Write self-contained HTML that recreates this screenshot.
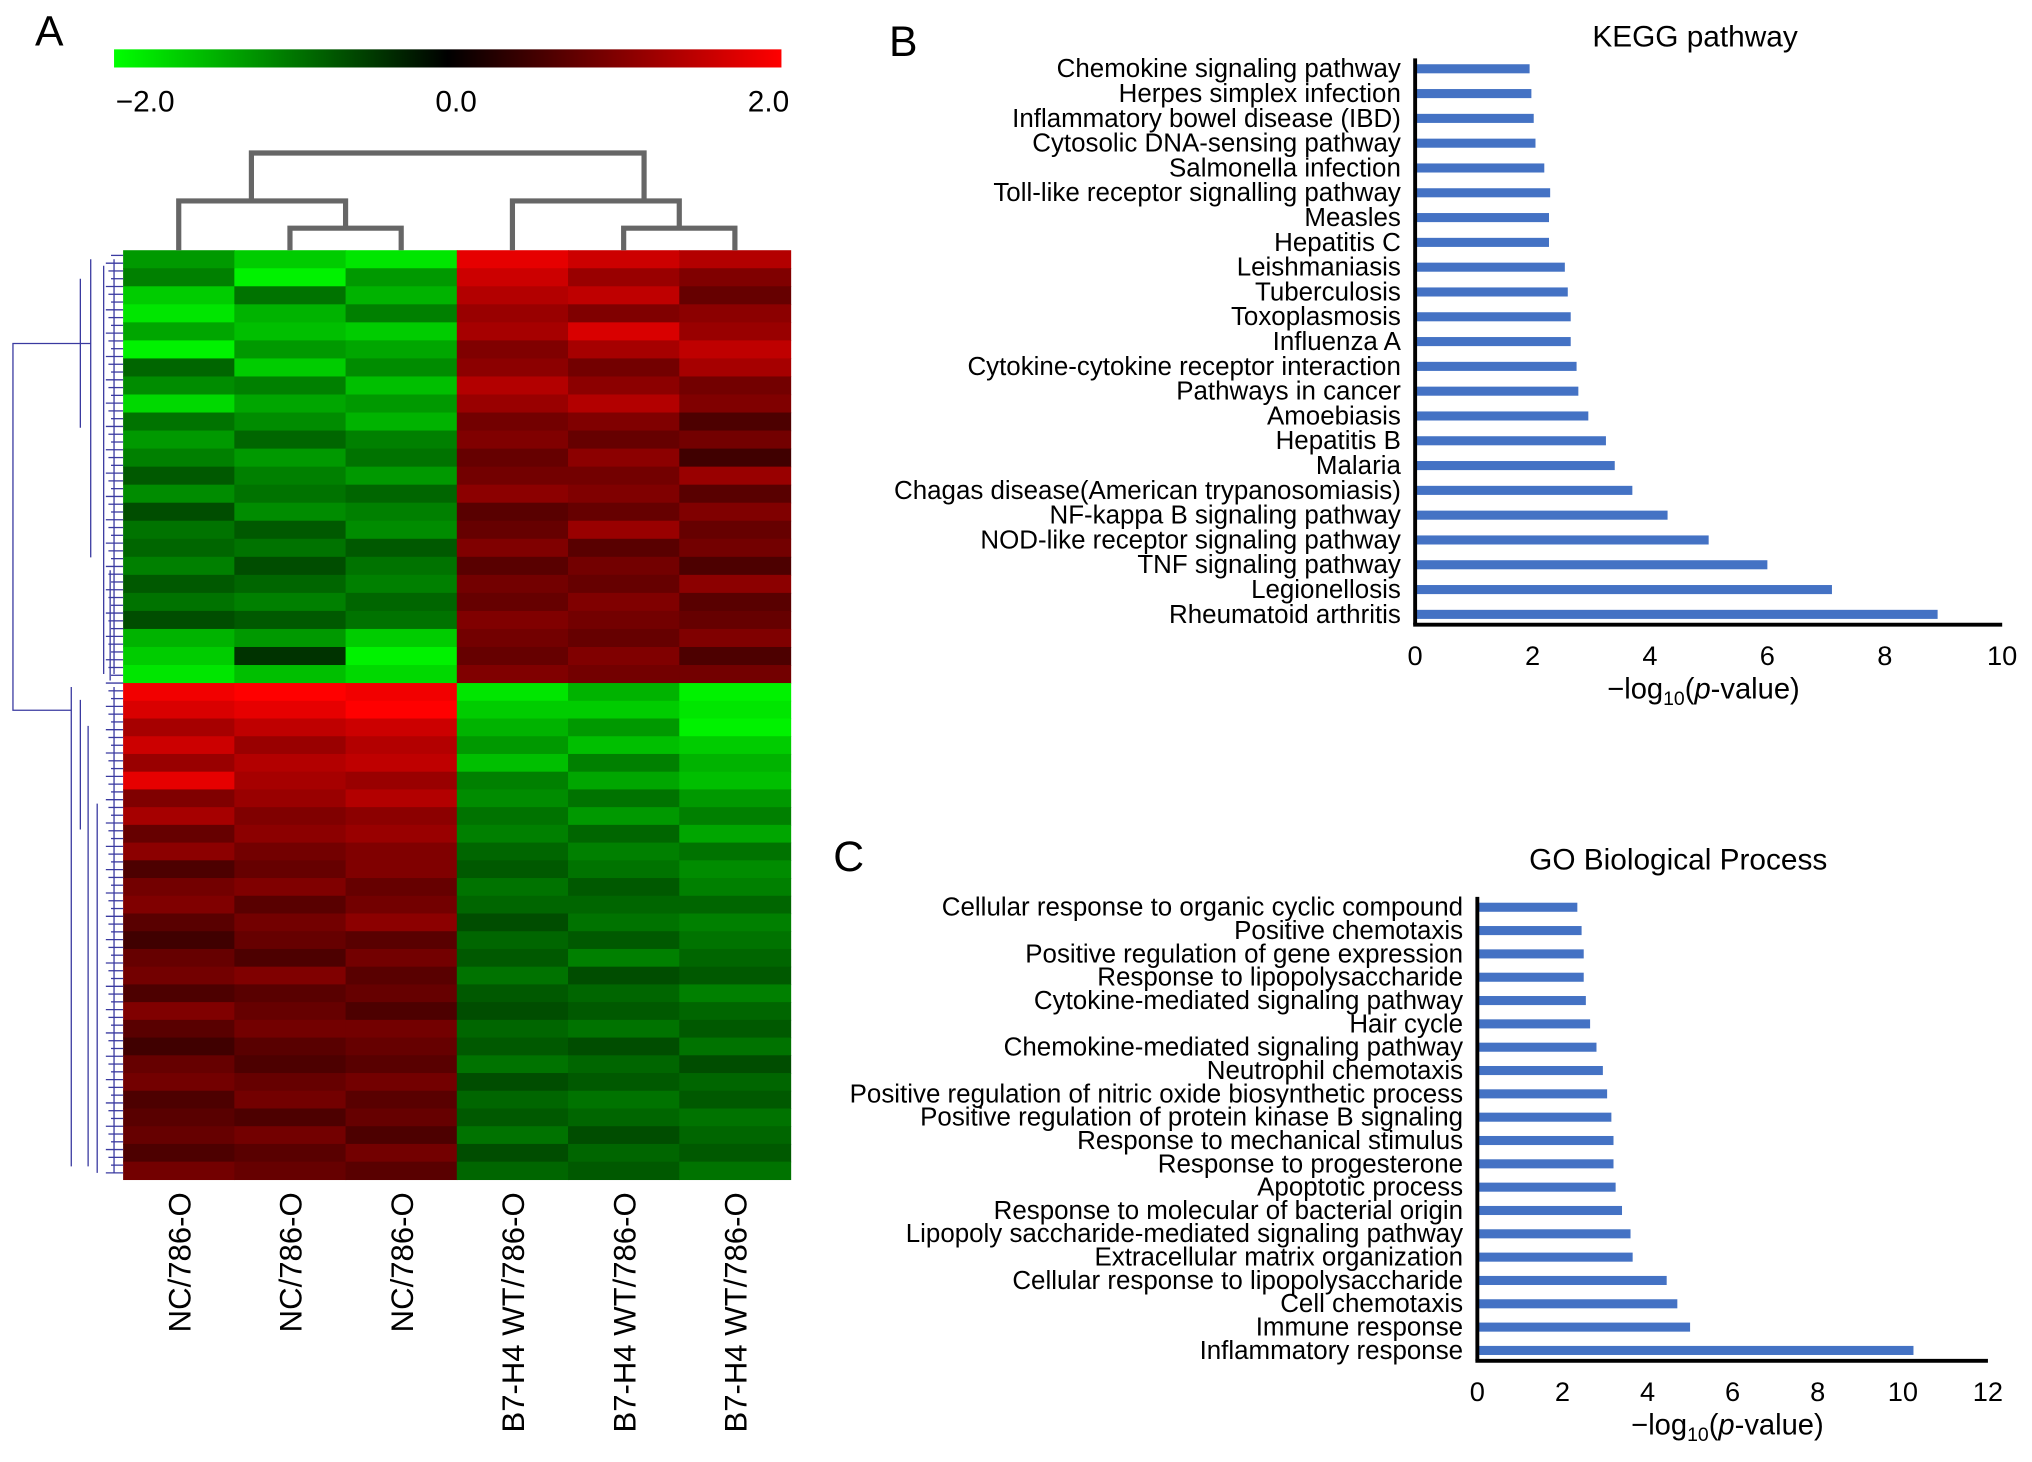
<!DOCTYPE html>
<html><head><meta charset="utf-8"><style>
html,body{margin:0;padding:0;background:#fff}
svg{display:block;font-family:"Liberation Sans",sans-serif}
</style></head><body>
<svg id="fig" width="2032" height="1462" viewBox="0 0 1568 1128">
<g id="panelA"></g>
<g id="panelB"></g>
<g id="panelC"></g>
</svg>
<script>
// ---- Heatmap data (rows x 6 samples: NC,NC,NC,B7,B7,B7), values in log scale ----
const heatSamples = ["NC/786-O","NC/786-O","NC/786-O","B7-H4 WT/786-O","B7-H4 WT/786-O","B7-H4 WT/786-O"];
const heatTop = [
[-1.2,-1.6,-1.8,1.8,1.6,1.4],[-1.0,-1.9,-1.2,1.6,1.2,1.0],[-1.6,-0.9,-1.4,1.4,1.5,0.8],[-1.8,-1.4,-1.0,1.2,1.0,1.1],
[-1.3,-1.5,-1.6,1.3,1.7,1.2],[-1.9,-1.2,-1.3,1.0,1.3,1.5],[-0.8,-1.6,-1.1,1.1,0.9,1.3],[-1.1,-1.0,-1.5,1.4,1.1,0.9],
[-1.7,-1.3,-1.2,1.2,1.4,1.0],[-0.9,-1.1,-1.4,0.9,1.0,0.6],[-1.2,-0.8,-1.0,1.0,0.8,0.9],[-1.0,-1.2,-0.9,0.8,1.1,0.5],
[-0.7,-1.0,-1.2,0.9,0.9,1.2],[-1.1,-0.9,-0.8,1.1,1.0,0.7],[-0.6,-1.1,-1.0,0.7,0.8,1.0],[-0.9,-0.7,-1.1,0.8,1.2,0.8],
[-0.8,-0.9,-0.7,1.0,0.7,0.9],[-1.0,-0.6,-0.9,0.7,0.9,0.6],[-0.7,-0.8,-1.0,0.9,0.8,1.1],[-0.9,-1.0,-0.8,0.8,1.0,0.7],
[-0.6,-0.7,-0.9,1.0,0.9,0.8],[-1.4,-1.2,-1.6,0.9,0.8,1.0],[-1.6,-0.4,-1.9,0.8,1.0,0.6],[-1.8,-1.5,-1.7,1.0,0.9,0.9]];
const heatBottom = [
[1.9,2.0,1.9,-1.8,-1.4,-1.9],[1.7,1.8,2.0,-1.6,-1.6,-1.8],[1.3,1.5,1.6,-1.4,-1.2,-1.9],[1.6,1.2,1.4,-1.2,-1.5,-1.6],
[1.2,1.4,1.5,-1.5,-1.0,-1.4],[1.8,1.3,1.2,-1.0,-1.3,-1.5],[1.0,1.2,1.4,-1.1,-0.9,-1.2],[1.3,1.0,1.1,-0.9,-1.2,-1.0],
[0.8,1.1,1.2,-1.0,-0.8,-1.3],[1.1,0.9,1.0,-0.8,-1.0,-0.9],[0.6,0.8,1.0,-0.7,-0.9,-1.1],[0.9,1.0,0.8,-0.9,-0.7,-1.0],
[1.0,0.7,0.9,-0.8,-0.8,-0.8],[0.7,0.9,1.1,-0.6,-0.9,-1.0],[0.5,0.8,0.7,-0.8,-0.7,-0.9],[0.8,0.6,0.9,-0.7,-1.0,-0.8],
[0.9,1.0,0.7,-0.9,-0.6,-0.7],[0.6,0.7,0.8,-0.7,-0.8,-1.0],[1.0,0.8,0.6,-0.6,-0.7,-0.8],[0.7,0.9,0.9,-0.8,-0.9,-0.7],
[0.5,0.7,0.8,-0.7,-0.6,-0.9],[0.8,0.6,0.7,-0.9,-0.8,-0.6],[0.9,0.8,0.9,-0.6,-0.7,-0.8],[0.6,0.9,0.7,-0.8,-0.9,-0.7],
[0.7,0.6,0.8,-0.7,-0.8,-0.9],[0.8,0.9,0.6,-0.9,-0.6,-0.8],[0.6,0.7,0.9,-0.6,-0.8,-0.7],[0.9,0.8,0.7,-0.8,-0.7,-0.9]];
const colorTicks = ["\u22122.0","0.0","2.0"];

// ---- KEGG data ----
const keggTerms = ["Chemokine signaling pathway","Herpes simplex infection","Inflammatory bowel disease (IBD)","Cytosolic DNA-sensing pathway","Salmonella infection","Toll-like receptor signalling pathway","Measles","Hepatitis C","Leishmaniasis","Tuberculosis","Toxoplasmosis","Influenza A","Cytokine-cytokine receptor interaction","Pathways in cancer","Amoebiasis","Hepatitis B","Malaria","Chagas disease(American trypanosomiasis)","NF-kappa B signaling pathway","NOD-like receptor signaling pathway","TNF signaling pathway","Legionellosis","Rheumatoid arthritis"];
const keggValues = [1.95,1.98,2.02,2.05,2.2,2.3,2.28,2.28,2.55,2.6,2.65,2.65,2.75,2.78,2.95,3.25,3.4,3.7,4.3,5.0,6.0,7.1,8.9];
const keggTicks = [0,2,4,6,8,10];

// ---- GO data ----
const goTerms = ["Cellular response to organic cyclic compound","Positive chemotaxis","Positive regulation of gene expression","Response to lipopolysaccharide","Cytokine-mediated signaling pathway","Hair cycle","Chemokine-mediated signaling pathway","Neutrophil chemotaxis","Positive regulation of nitric oxide biosynthetic process","Positive regulation of protein kinase B signaling","Response to mechanical stimulus","Response to progesterone","Apoptotic process","Response to molecular of bacterial origin","Lipopoly saccharide-mediated signaling pathway","Extracellular matrix organization","Cellular response to lipopolysaccharide","Cell chemotaxis","Immune response","Inflammatory response"];
const goValues = [2.35,2.45,2.5,2.5,2.55,2.65,2.8,2.95,3.05,3.15,3.2,3.2,3.25,3.4,3.6,3.65,4.45,4.7,5.0,10.25];
const goTicks = [0,2,4,6,8,10,12];

const NS="http://www.w3.org/2000/svg";
function mk(tag,attrs,parent,text){const e=document.createElementNS(NS,tag);for(const k in attrs)e.setAttribute(k,attrs[k]);if(text!==undefined)e.textContent=text;parent.appendChild(e);return e;}
function col(v){const t=Math.max(-1,Math.min(1,v/2));const c=Math.round(255*Math.abs(t));return t<0?`rgb(0,${c},0)`:`rgb(${c},0,0)`;}

// ===== Panel A =====
const A=document.getElementById('panelA');
let t=mk('text',{x:27,y:35,'font-size':33},A,'A');


const defs=mk('defs',{},A);
const lg=mk('linearGradient',{id:'cb',x1:0,x2:1,y1:0,y2:0},defs);
mk('stop',{offset:'0','stop-color':'#00ff00'},lg);mk('stop',{offset:'0.5','stop-color':'#000'},lg);mk('stop',{offset:'1','stop-color':'#ff0000'},lg);
const cbar=mk('rect',{x:88,y:38,width:515,height:14,fill:'url(#cb)'},A);


const cbx=[112,352,593];
colorTicks.forEach((s,i)=>{const e=mk('text',{x:cbx[i],y:86,'font-size':23,'text-anchor':'middle'},A,s);

});
const hx0=95,hx1=610,hy0=193,hmid=527,hy1=910,cw=(hx1-hx0)/6;
function drawBlock(rows,y0,y1){const rh=(y1-y0)/rows.length;rows.forEach((r,i)=>r.forEach((v,j)=>{const c=mk('rect',{x:hx0+j*cw,y:y0+i*rh,width:cw+0.5,height:rh+0.5,fill:col(v)},A);

}));}
drawBlock(heatTop,hy0,hmid);drawBlock(heatBottom,hmid,hy1);
// top dendrogram
const cx=j=>hx0+cw*(j+0.5);
const dg=mk('g',{stroke:'#666','stroke-width':4,fill:'none'},A);


function link(xa,ya,xb,yb,y){mk('path',{d:`M${xa},${ya}V${y}H${xb}V${yb}`},dg);}
link(cx(1),hy0,cx(2),hy0,176);link(cx(0),hy0,(cx(1)+cx(2))/2,176,155);
link(cx(4),hy0,cx(5),hy0,176);link(cx(3),hy0,(cx(4)+cx(5))/2,176,155);
link(194,155,497,155,118);
// left dendrogram
const lgp=mk('g',{stroke:'#3a3aa0','stroke-width':1,fill:'none'},A);


mk('path',{d:'M70,265H10V548H55'},lgp);
mk('path',{d:'M70,200V430 M62,215V330 M80,205V520 M85,440V525 M55,530V900 M62,540V640 M68,560V900 M75,620V905 M88,200V520 M88,530V905'},lgp);
for(let y=197;y<908;y+=6){mk('path',{d:`M${80+ (y%18)/3},${y}H95`},lgp);}
// column labels
heatSamples.forEach((s,j)=>{const e=mk('text',{transform:`translate(${cx(j)+9},920) rotate(-90)`,'font-size':24,'text-anchor':'end'},A,s);

});

// ===== Bar charts =====
function barChart(g,o){
  const L=mk('text',{x:o.lx,y:o.ly,'font-size':33},g,o.letter);
  
  
  const T=mk('text',{x:o.tx,y:o.ty,'font-size':23,'text-anchor':'middle'},g,o.title);
  
  
  const xs=v=>o.x0+(v-o.tmin)/(o.tmax-o.tmin)*(o.x1-o.x0);
  const n=o.terms.length, step=(o.yLast-o.yFirst)/(n-1);
  const ys=i=>o.yFirst+i*step;
  o.terms.forEach((s,i)=>{
    const lab=mk('text',{x:o.x0-11,y:ys(i)+6.5,'font-size':20,'text-anchor':'end'},g,s);
    
    
    const b=mk('rect',{x:o.x0,y:ys(i)-3.5,width:xs(o.values[i])-o.x0,height:7,fill:'#4472c4'},g);
    
    
  });
  const ya=mk('line',{x1:o.x0,x2:o.x0,y1:o.axTop,y2:o.axY,stroke:'#000','stroke-width':3},g);
  
  
  const xa=mk('line',{x1:o.x0-1.5,x2:o.x1,y1:o.axY,y2:o.axY,stroke:'#000','stroke-width':3},g);
  
  
  o.ticks.forEach(v=>{const e=mk('text',{x:xs(v),y:o.axY+31,'font-size':21,'text-anchor':'middle'},g,String(v));
    
    });
  const at=mk('text',{x:(o.x0+o.x1)/2-4,y:o.axY+57,'font-size':22.5,'text-anchor':'middle'},g);
  
  
  mk('tspan',{},at,'\u2212log');mk('tspan',{'font-size':15,dy:5},at,'10');
  mk('tspan',{dy:-5},at,'(');mk('tspan',{'font-style':'italic'},at,'p');mk('tspan',{},at,'-value)');
}
barChart(document.getElementById('panelB'),{letter:'B',lx:686,ly:43,title:'KEGG pathway',tx:1308,ty:36,
  terms:keggTerms,values:keggValues,ticks:keggTicks,tmin:0,tmax:10,x0:1092,x1:1545,yFirst:53,yLast:474,axTop:45,axY:482});
barChart(document.getElementById('panelC'),{letter:'C',lx:643,ly:672,title:'GO Biological Process',tx:1295,ty:671,
  terms:goTerms,values:goValues,ticks:goTicks,tmin:0,tmax:12,x0:1140,x1:1534,yFirst:700,yLast:1042,axTop:692,axY:1050});
</script>
</body></html>
